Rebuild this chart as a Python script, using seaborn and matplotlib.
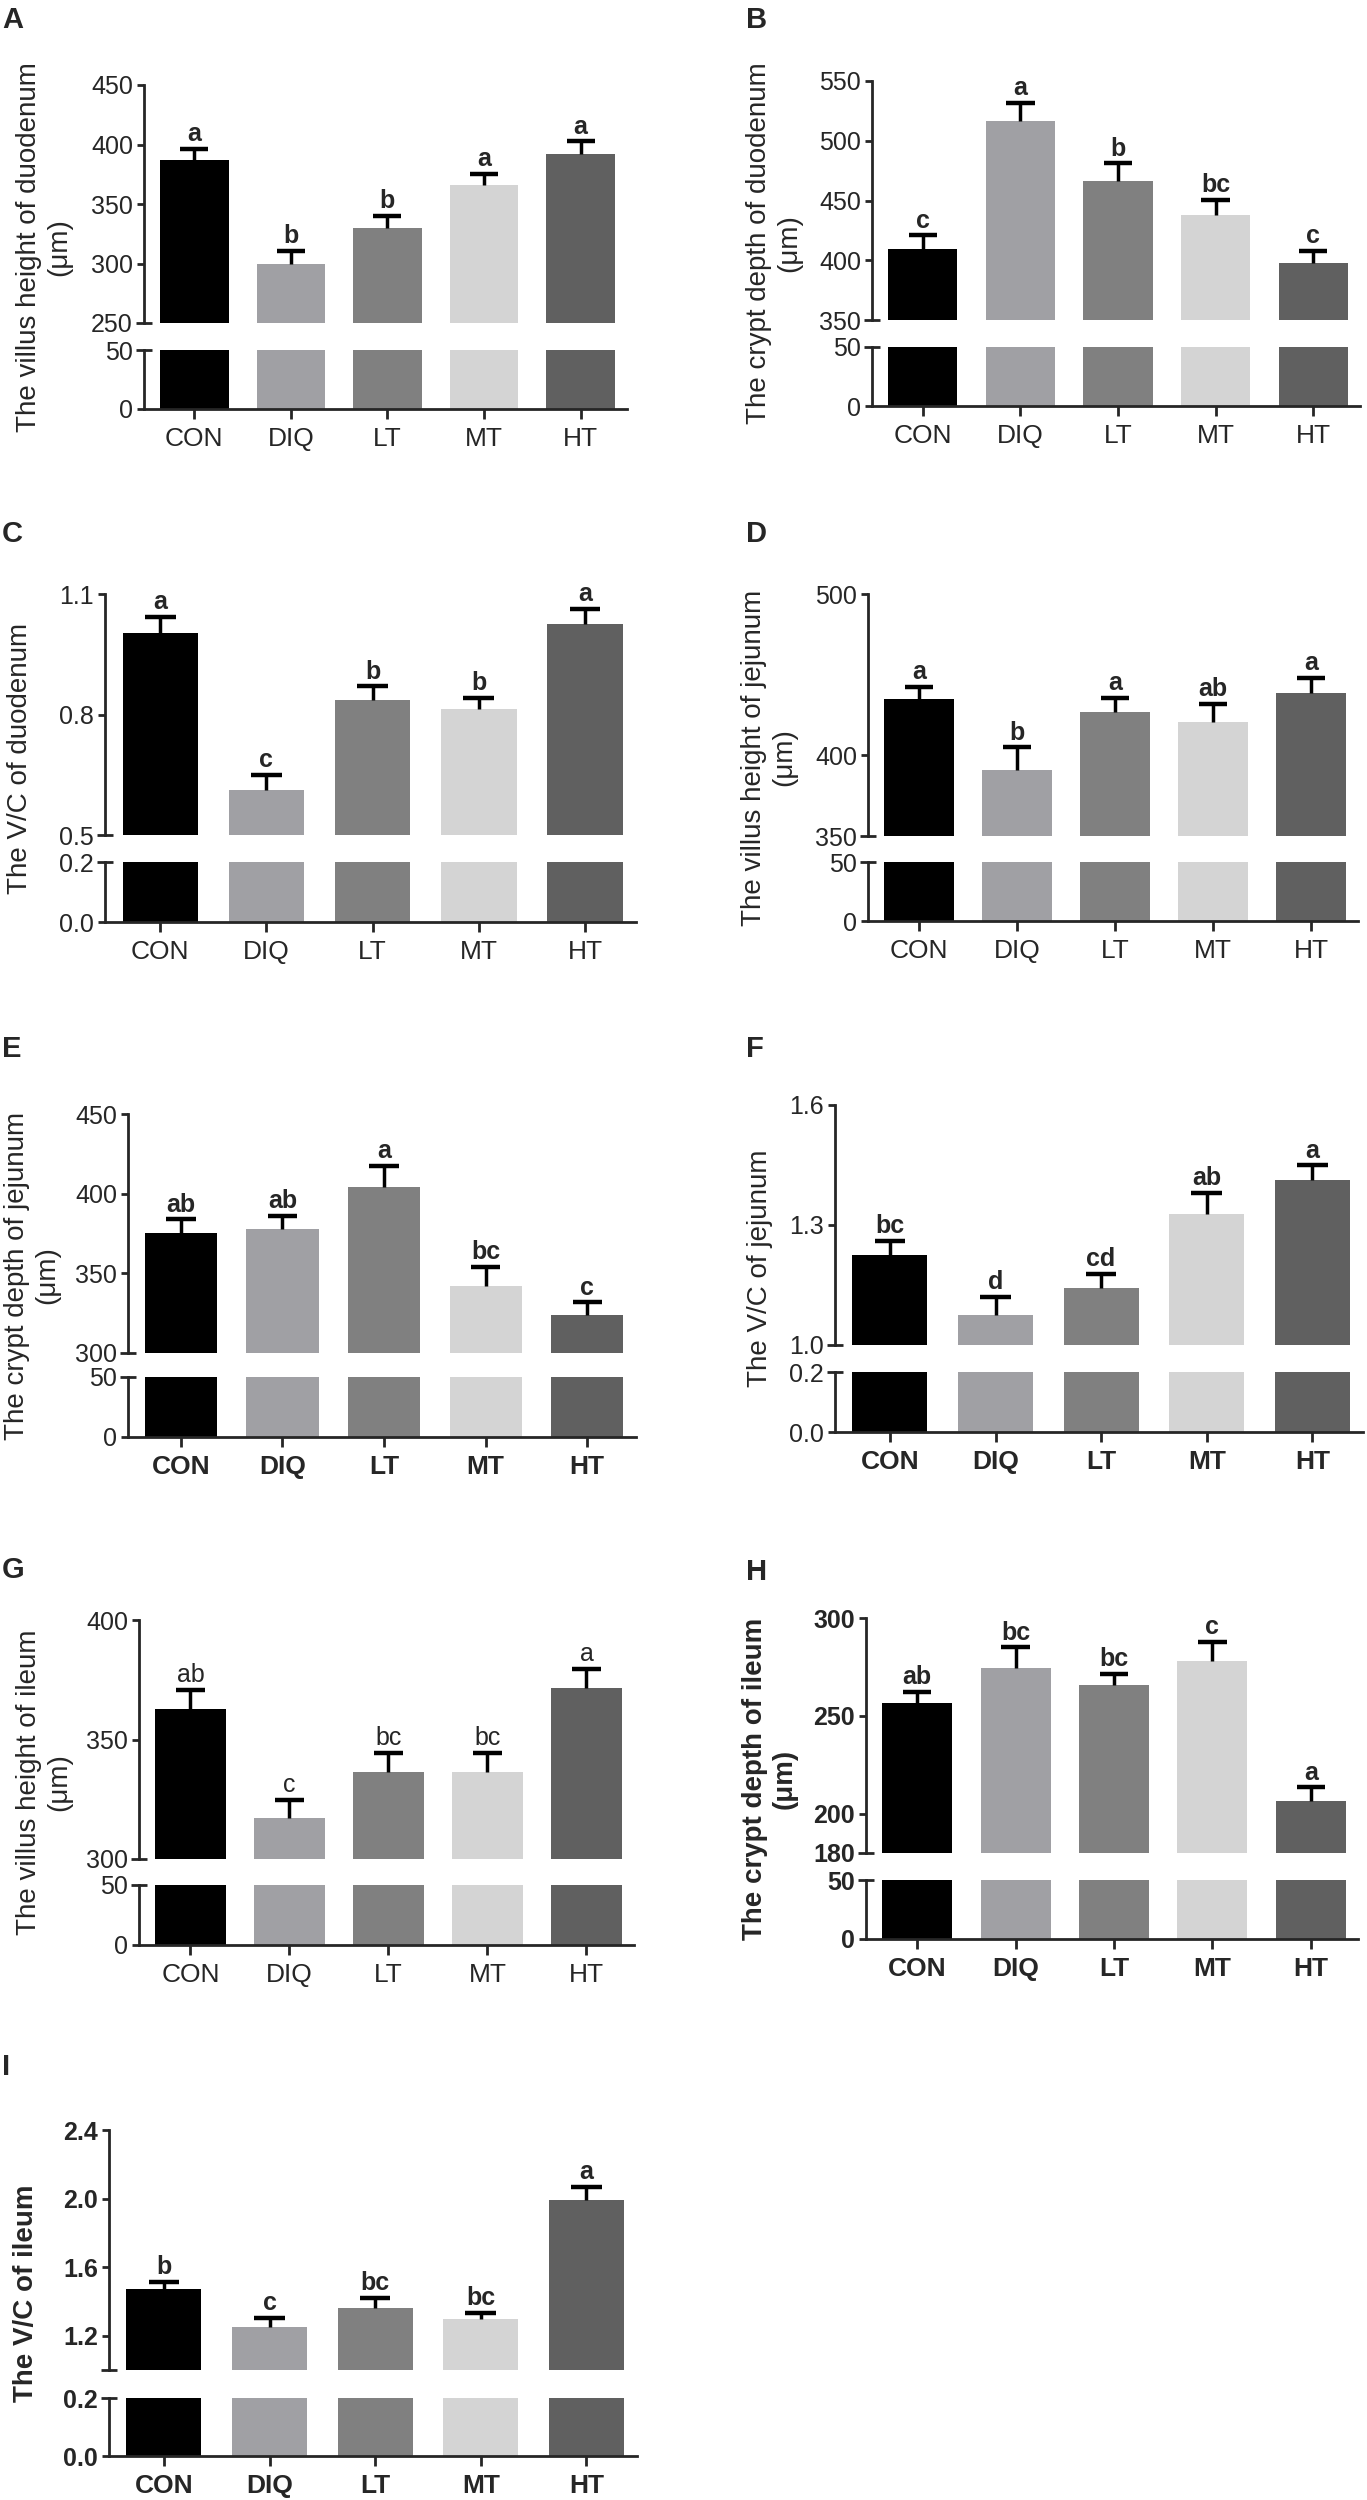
import numpy as np
import pandas as pd
import matplotlib
matplotlib.use("Agg")
import matplotlib.pyplot as plt
import seaborn as sns

# groups and bar shades
groups = ["CON", "DIQ", "LT", "MT", "HT"]
bar_colors = ["#000000", "#a0a0a4", "#808080", "#d4d4d4", "#606060"]

# duodenum
duo_villus = [387, 299.5, 330, 365.7, 392.4]
duo_villus_err = [9, 11, 9.7, 9.9, 10.2]
duo_villus_sig = ["a", "b", "b", "a", "a"]

duo_crypt = [409.5, 516.7, 466.7, 437.8, 397.6]
duo_crypt_err = [11.3, 14.8, 14.3, 12.5, 10.4]
duo_crypt_sig = ["c", "a", "b", "bc", "c"]

duo_vc = [1.004, 0.611, 0.835, 0.814, 1.025]
duo_vc_err = [0.039, 0.038, 0.035, 0.027, 0.037]
duo_vc_sig = ["a", "c", "b", "b", "a"]

# jejunum
jej_villus = [435.2, 391.2, 427, 420.4, 438.7]
jej_villus_err = [7.3, 13.7, 8.8, 11.7, 9.3]
jej_villus_sig = ["a", "b", "a", "ab", "a"]

jej_crypt = [375.4, 377.7, 404.4, 342.2, 323.6]
jej_crypt_err = [8.4, 8.3, 13, 11.9, 8.1]
jej_crypt_sig = ["ab", "ab", "a", "bc", "c"]

jej_vc = [1.224, 1.076, 1.142, 1.327, 1.413]
jej_vc_err = [0.036, 0.044, 0.036, 0.053, 0.036]
jej_vc_sig = ["bc", "d", "cd", "ab", "a"]

# ileum
ile_villus = [362.7, 317.2, 336.6, 336.6, 371.6]
ile_villus_err = [7.9, 7.4, 7.7, 7.7, 8.0]
ile_villus_sig = ["ab", "c", "bc", "bc", "a"]

ile_crypt = [256.7, 274.3, 265.6, 278.2, 206.5]
ile_crypt_err = [5.4, 10.7, 6.0, 9.6, 7.0]
ile_crypt_sig = ["ab", "bc", "bc", "c", "a"]

ile_vc = [1.474, 1.252, 1.362, 1.300, 1.990]
ile_vc_err = [0.039, 0.052, 0.058, 0.035, 0.080]
ile_vc_sig = ["b", "c", "bc", "bc", "a"]

W, H = 1367, 2500
FONT = ["Liberation Sans", "DejaVu Sans"]


def frac(left, right, top, bottom):
    return [left / W, 1 - bottom / H, (right - left) / W, (bottom - top) / H]


# box = (axis left, axis right, upper top, upper bottom, lower top, lower bottom) in pixels
panels = [
    dict(tag="A", vals=duo_villus, err=duo_villus_err, sig=duo_villus_sig,
         label="The villus height of duodenum\n(μm)", upper=(250, 450),
         uticks=[250, 300, 350, 400, 450], lower=(0, 50), lticks=[0, 50], fmt="%d",
         box=(144, 627, 85, 323, 350, 409), lab_x=44, tag_xy=(2, 6),
         xbold=False, ybold=False, sbold=True, lbold=False),
    dict(tag="B", vals=duo_crypt, err=duo_crypt_err, sig=duo_crypt_sig,
         label="The crypt depth of duodenum\n(μm)", upper=(350, 550),
         uticks=[350, 400, 450, 500, 550], lower=(0, 50), lticks=[0, 50], fmt="%d",
         box=(872, 1360, 81, 320, 347, 406), lab_x=774, tag_xy=(746, 6),
         xbold=False, ybold=False, sbold=True, lbold=False),
    dict(tag="C", vals=duo_vc, err=duo_vc_err, sig=duo_vc_sig,
         label="The V/C of duodenum", upper=(0.5, 1.1),
         uticks=[0.5, 0.8, 1.1], lower=(0, 0.2), lticks=[0, 0.2], fmt="%.1f",
         box=(105, 636, 594, 835, 862, 922), lab_x=20, tag_xy=(2, 520),
         xbold=False, ybold=False, sbold=True, lbold=False),
    dict(tag="D", vals=jej_villus, err=jej_villus_err, sig=jej_villus_sig,
         label="The villus height of jejunum\n(μm)", upper=(350, 500),
         uticks=[350, 400, 500], lower=(0, 50), lticks=[0, 50], fmt="%d",
         box=(868, 1358, 594, 836, 862, 921), lab_x=769, tag_xy=(746, 520),
         xbold=False, ybold=False, sbold=True, lbold=False),
    dict(tag="E", vals=jej_crypt, err=jej_crypt_err, sig=jej_crypt_sig,
         label="The crypt depth of jejunum\n(μm)", upper=(300, 450),
         uticks=[300, 350, 400, 450], lower=(0, 50), lticks=[0, 50], fmt="%d",
         box=(128, 636, 1114, 1353, 1377, 1437), lab_x=32, tag_xy=(2, 1035),
         xbold=True, ybold=False, sbold=True, lbold=False),
    dict(tag="F", vals=jej_vc, err=jej_vc_err, sig=jej_vc_sig,
         label="The V/C of jejunum", upper=(1.0, 1.6),
         uticks=[1.0, 1.3, 1.6], lower=(0, 0.2), lticks=[0, 0.2], fmt="%.1f",
         box=(835, 1363, 1105, 1345, 1372, 1432), lab_x=760, tag_xy=(746, 1035),
         xbold=True, ybold=False, sbold=True, lbold=False),
    dict(tag="G", vals=ile_villus, err=ile_villus_err, sig=ile_villus_sig,
         label="The villus height of ileum\n(μm)", upper=(300, 400),
         uticks=[300, 350, 400], lower=(0, 50), lticks=[0, 50], fmt="%d",
         box=(139, 634, 1620, 1859, 1885, 1945), lab_x=44, tag_xy=(2, 1556),
         xbold=False, ybold=False, sbold=False, lbold=False),
    dict(tag="H", vals=ile_crypt, err=ile_crypt_err, sig=ile_crypt_sig,
         label="The crypt depth of ileum\n(μm)", upper=(180, 300),
         uticks=[180, 200, 250, 300], lower=(0, 50), lticks=[0, 50], fmt="%d",
         box=(866, 1358, 1618, 1853, 1880, 1939), lab_x=770, tag_xy=(746, 1558),
         xbold=True, ybold=True, sbold=True, lbold=True),
    dict(tag="I", vals=ile_vc, err=ile_vc_err, sig=ile_vc_sig,
         label="The V/C of ileum", upper=(1.0, 2.4),
         uticks=[1.0, 1.2, 1.6, 2.0, 2.4], lower=(0, 0.2), lticks=[0, 0.2], fmt="%.1f",
         box=(109, 637, 2130, 2370, 2398, 2456), lab_x=26, tag_xy=(2, 2053),
         xbold=True, ybold=True, sbold=True, lbold=True),
]

sns.set_style("ticks")
plt.rcParams["font.family"] = FONT
plt.rcParams["axes.linewidth"] = 2.0

fig = plt.figure(figsize=(W / 100, H / 100), dpi=100)


def break_tick(tick):
    # GraphPad-like tick that crosses the axis at the break
    tick.tick1line.set_marker("_")
    tick.tick1line.set_markersize(11)


def draw_panel(p):
    left, right, ut, ub, lt, lb = p["box"]
    ax_up = fig.add_axes(frac(left, right, ut, ub))
    ax_lo = fig.add_axes(frac(left, right, lt, lb))
    df = pd.DataFrame({"group": groups, "value": p["vals"]})
    yweight = "bold" if p["ybold"] else "normal"

    for ax in (ax_up, ax_lo):
        sns.barplot(data=df, x="group", y="value", hue="group", palette=bar_colors,
                    saturation=1, width=0.71, linewidth=0, errorbar=None,
                    legend=False, ax=ax)
        ax.set_xlim(-0.52, 4.48)
        ax.set_xlabel("")
        ax.set_ylabel("")
        ax.set_facecolor("none")
        for s in ("top", "right"):
            ax.spines[s].set_visible(False)
        ax.tick_params(axis="y", direction="out", length=5, width=2, pad=3, labelsize=18)

    # upper segment
    ax_up.set_ylim(*p["upper"])
    ax_up.set_yticks(p["uticks"])
    ulabels = [p["fmt"] % t for t in p["uticks"]]
    if p["tag"] == "I":
        ulabels[0] = ""
    ax_up.set_yticklabels(ulabels, fontweight=yweight)
    ax_up.spines["bottom"].set_visible(False)
    ax_up.tick_params(axis="x", bottom=False, labelbottom=False)

    # lower segment
    ax_lo.set_ylim(*p["lower"])
    ax_lo.set_yticks(p["lticks"])
    ax_lo.set_yticklabels([p["fmt"] % t for t in p["lticks"]], fontweight=yweight)
    ax_lo.tick_params(axis="x", direction="out", length=7, width=2, pad=6, labelsize=19)
    for lbl in ax_lo.get_xticklabels():
        lbl.set_fontweight("bold" if p["xbold"] else "normal")

    break_tick(ax_up.yaxis.get_major_ticks()[0])
    break_tick(ax_lo.yaxis.get_major_ticks()[-1])

    # one-sided error bars and letters
    x = np.arange(len(groups))
    vals = np.array(p["vals"])
    caps = vals + np.array(p["err"])
    ax_up.vlines(x, vals, caps, color="black", lw=2.5)
    ax_up.hlines(caps, x - 0.145, x + 0.145, color="black", lw=3.2)
    for i in range(len(groups)):
        ax_up.annotate(p["sig"][i], (x[i], caps[i]), xytext=(0, 2),
                       textcoords="offset points", ha="center", va="bottom",
                       fontsize=18, fontweight="bold" if p["sbold"] else "normal",
                       annotation_clip=False)

    # y label and panel tag
    yc = (ut + lb) / 2
    fig.text(p["lab_x"] / W, 1 - yc / H, p["label"], rotation=90, ha="center", va="center",
             multialignment="center", fontsize=20, linespacing=1.2,
             fontweight="bold" if p["lbold"] else "normal")
    tx, ty = p["tag_xy"]
    fig.text(tx / W, 1 - ty / H, p["tag"], ha="left", va="top", fontsize=21,
             fontweight="bold")


for p in panels:
    draw_panel(p)

fig.savefig("out.png", dpi=100, facecolor="white")
